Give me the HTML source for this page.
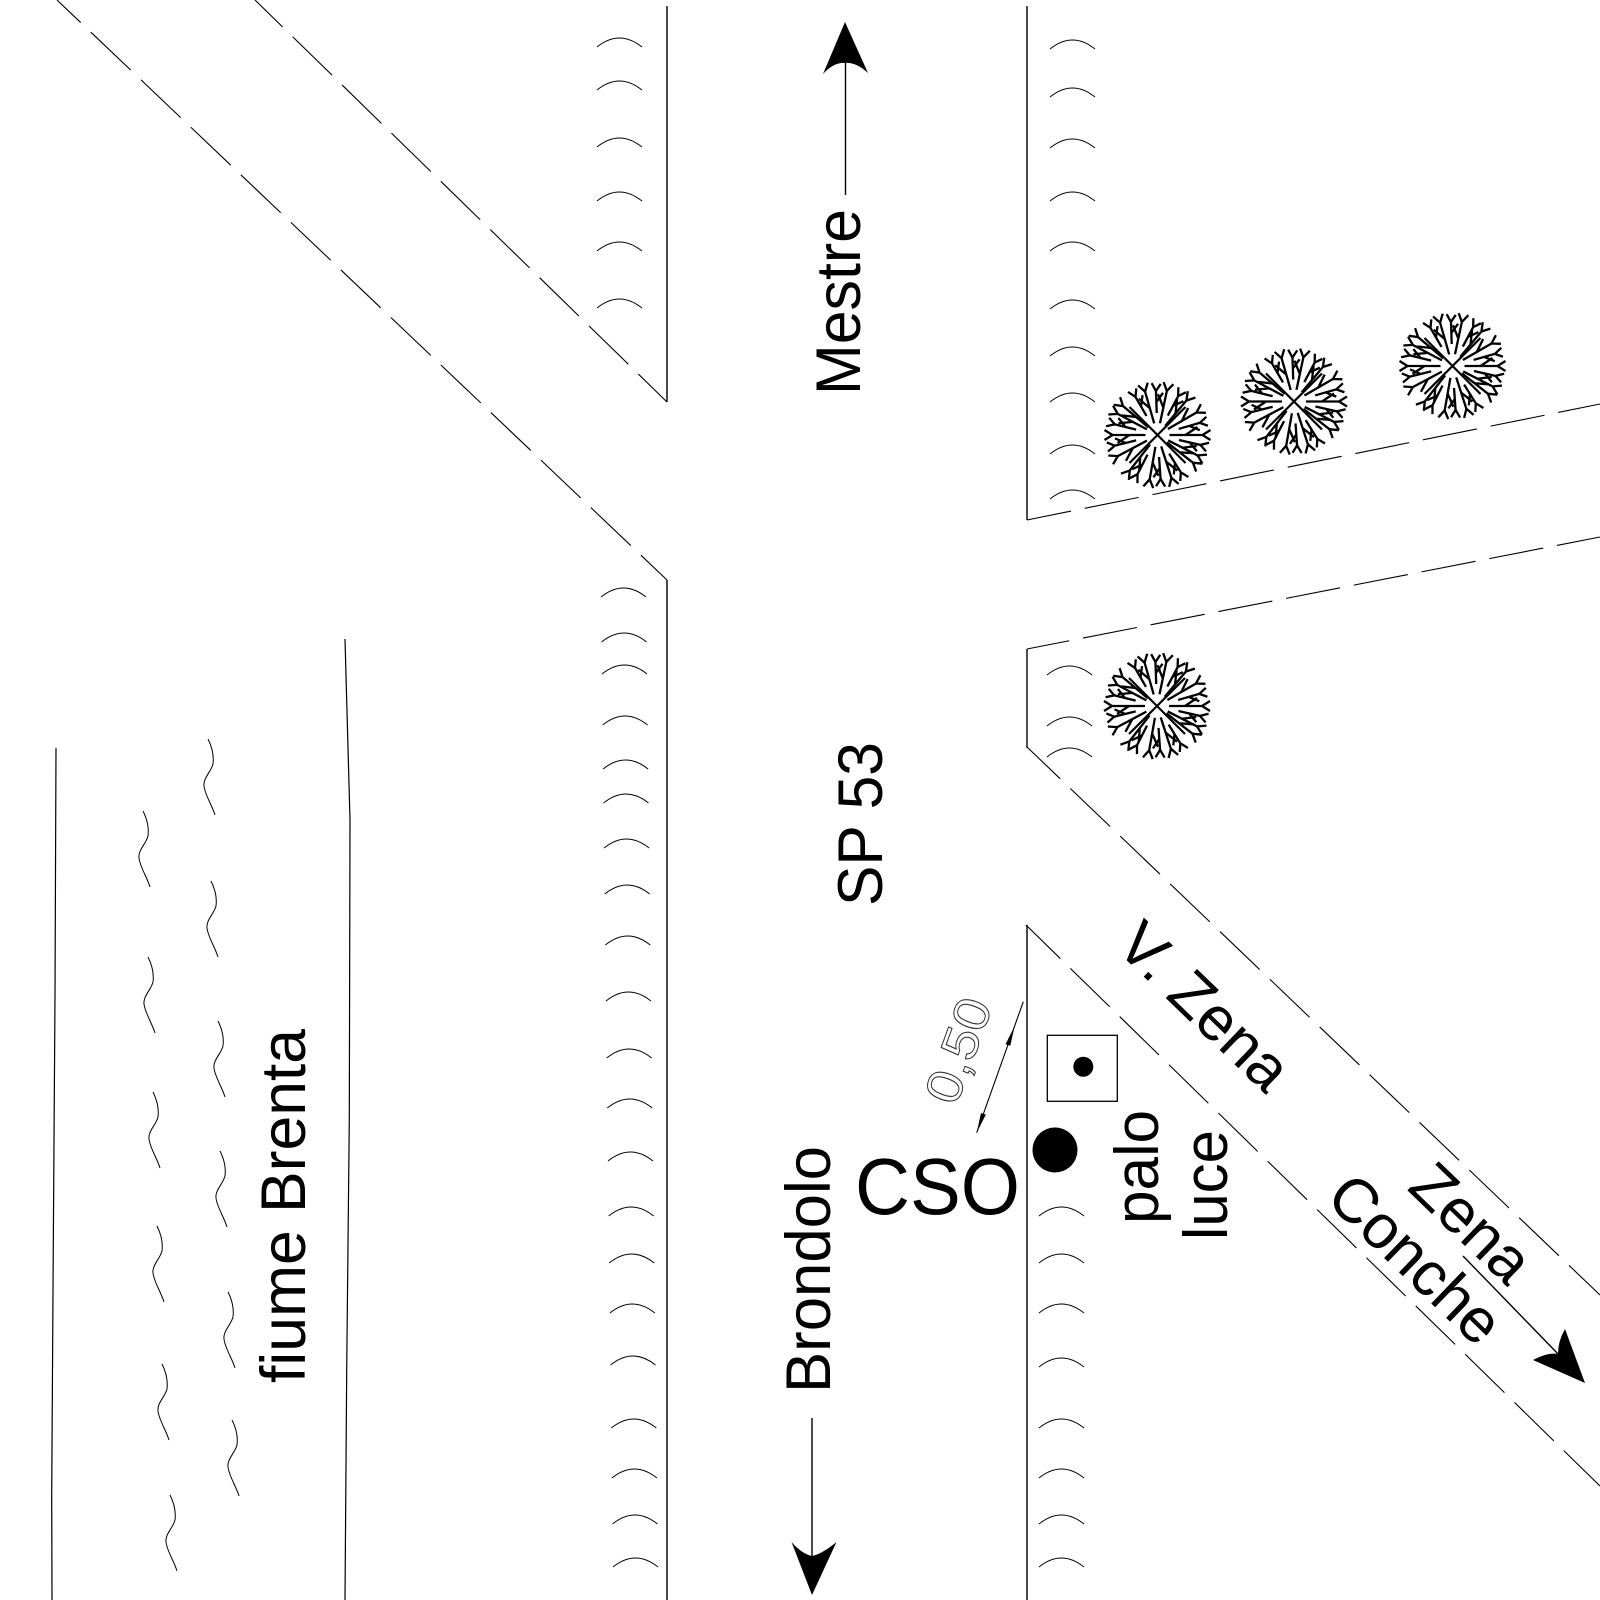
<!DOCTYPE html>
<html>
<head>
<meta charset="utf-8">
<style>
html,body{margin:0;padding:0;background:#fff;overflow:hidden;}
svg{display:block;}
text{font-family:"Liberation Sans","DejaVu Sans",sans-serif;fill:#000;}
</style>
</head>
<body>
<svg width="1600" height="1600" viewBox="0 0 1600 1600" xmlns="http://www.w3.org/2000/svg">
<defs>
  <path id="arc" d="M0,9 Q22.5,-9 45,9" fill="none" stroke="#000" stroke-width="1"/>
  <path id="wv" d="M0,0 C4,8 6,17 5,25 C3,33 -5,39 -4,47 C-3,56 4,66 7,76" fill="none" stroke="#000" stroke-width="1"/>
  <path id="bA" d="M12,0 L45,0 L53,-5 M45,0 L53,5 M28,0 L40,-8"/>
  <path id="bB" d="M22,0 L44,0 L52,-4 M44,0 L51,5 M33,0 L42,7"/>
  <g id="tree" stroke="#000" stroke-width="2.3" fill="none" stroke-linecap="butt">
    <path d="M-28,-28 L28,28 M28,-28 L-28,28" stroke-width="2.2"/>
    <use href="#bA" transform="rotate(0)"/>
    <use href="#bB" transform="rotate(13)"/>
    <use href="#bA" transform="rotate(27)"/>
    <use href="#bB" transform="rotate(58)"/>
    <use href="#bA" transform="rotate(72)"/>
    <use href="#bB" transform="rotate(86)"/>
    <use href="#bA" transform="rotate(100)"/>
    <use href="#bB" transform="rotate(117)"/>
    <use href="#bA" transform="rotate(152)"/>
    <use href="#bB" transform="rotate(166)"/>
    <use href="#bA" transform="rotate(180)"/>
    <use href="#bB" transform="rotate(194)"/>
    <use href="#bA" transform="rotate(208)"/>
    <use href="#bB" transform="rotate(240)"/>
    <use href="#bA" transform="rotate(254)"/>
    <use href="#bB" transform="rotate(268)"/>
    <use href="#bA" transform="rotate(282)"/>
    <use href="#bB" transform="rotate(298)"/>
    <use href="#bA" transform="rotate(330)"/>
    <use href="#bB" transform="rotate(344)"/>
    <use href="#bA" transform="rotate(38)"/>
    <use href="#bA" transform="rotate(128)"/>
    <use href="#bA" transform="rotate(220)"/>
    <use href="#bA" transform="rotate(310)"/>
  </g>
</defs>

<rect width="1600" height="1600" fill="#fff"/>

<!-- main road solid edges -->
<g stroke="#000" stroke-width="1.4" fill="none">
  <line x1="667" y1="6" x2="667" y2="402"/>
  <line x1="667" y1="580" x2="667" y2="1600"/>
  <line x1="1027" y1="6" x2="1027" y2="520"/>
  <line x1="1027" y1="649" x2="1027" y2="748"/>
  <line x1="1027" y1="925" x2="1027" y2="1600"/>
</g>

<!-- dashed road edges -->
<g stroke="#000" stroke-width="1.1" fill="none" stroke-dasharray="55 14">
  <path d="M667,580 L57,0" stroke-dashoffset="19"/>
  <path d="M667,402 L255,0" stroke-dashoffset="15"/>
  <path d="M1027,520 L1600,404" stroke-dashoffset="10"/>
  <path d="M1027,649 L1600,537" stroke-dashoffset="12"/>
  <path d="M1027,747 L1600,1295" stroke-dashoffset="9"/>
  <path d="M1026,925 L1600,1486" stroke-dashoffset="7"/>
</g>

<!-- river banks -->
<g stroke="#000" stroke-width="1.2" fill="none">
  <polyline points="56,748 55,995 53.3,1245 51.7,1495 52,1600"/>
  <polyline points="345,639 350,820 349.3,1120 346.7,1370 345,1600"/>
</g>

<!-- water waves -->
<use href="#wv" x="143" y="811"/>
<use href="#wv" x="148" y="957"/>
<use href="#wv" x="153" y="1092"/>
<use href="#wv" x="157" y="1226"/>
<use href="#wv" x="162" y="1364"/>
<use href="#wv" x="170" y="1495"/>
<use href="#wv" x="208" y="739"/>
<use href="#wv" x="211" y="881"/>
<use href="#wv" x="218" y="1021"/>
<use href="#wv" x="220" y="1151"/>
<use href="#wv" x="228" y="1292"/>
<use href="#wv" x="232" y="1420"/>

<!-- curb arcs top-left -->
<use href="#arc" x="597" y="38"/>
<use href="#arc" x="597" y="81"/>
<use href="#arc" x="597" y="138"/>
<use href="#arc" x="597" y="192"/>
<use href="#arc" x="597" y="242"/>
<use href="#arc" x="597" y="299"/>

<!-- curb arcs lower-left -->
<use href="#arc" x="601" y="588"/>
<use href="#arc" x="601.6" y="633"/>
<use href="#arc" x="602" y="665"/>
<use href="#arc" x="602.6" y="716"/>
<use href="#arc" x="603.1" y="760"/>
<use href="#arc" x="603.5" y="794"/>
<use href="#arc" x="604.1" y="839"/>
<use href="#arc" x="604.7" y="885"/>
<use href="#arc" x="605.3" y="936"/>
<use href="#arc" x="606" y="992"/>
<use href="#arc" x="606.7" y="1049"/>
<use href="#arc" x="607.3" y="1099"/>
<use href="#arc" x="608" y="1152"/>
<use href="#arc" x="608.7" y="1207"/>
<use href="#arc" x="609.2" y="1254"/>
<use href="#arc" x="609.9" y="1304"/>
<use href="#arc" x="610.5" y="1356"/>
<use href="#arc" x="611.3" y="1419"/>
<use href="#arc" x="611.9" y="1469"/>
<use href="#arc" x="612.5" y="1515"/>
<use href="#arc" x="613" y="1558"/>

<!-- curb arcs top-right -->
<use href="#arc" x="1050" y="40"/>
<use href="#arc" x="1050" y="88"/>
<use href="#arc" x="1050" y="139"/>
<use href="#arc" x="1050" y="192"/>
<use href="#arc" x="1050" y="242"/>
<use href="#arc" x="1050" y="300"/>
<use href="#arc" x="1050" y="347"/>
<use href="#arc" x="1050" y="393"/>
<use href="#arc" x="1050" y="445"/>
<use href="#arc" x="1050" y="490"/>

<!-- curb arcs middle-right -->
<use href="#arc" x="1047" y="666"/>
<use href="#arc" x="1047" y="717"/>
<use href="#arc" x="1047" y="748"/>

<!-- curb arcs lower-right -->
<use href="#arc" x="1039" y="1207"/>
<use href="#arc" x="1039" y="1254"/>
<use href="#arc" x="1039" y="1304"/>
<use href="#arc" x="1039" y="1358"/>
<use href="#arc" x="1039" y="1419"/>
<use href="#arc" x="1039" y="1469"/>
<use href="#arc" x="1039" y="1515"/>
<use href="#arc" x="1039" y="1558"/>

<!-- trees -->
<use href="#tree" transform="translate(1157.5,435)"/>
<use href="#tree" transform="translate(1294,401.5)"/>
<use href="#tree" transform="translate(1452.5,366)"/>
<use href="#tree" transform="translate(1157,706)"/>

<!-- Mestre arrow -->
<line x1="845.5" y1="60" x2="845.5" y2="195" stroke="#000" stroke-width="1.4"/>
<path d="M845,22 L868,73 Q856,62 845,63 Q834,62 823,74 Z" fill="#000"/>

<!-- Brondolo arrow -->
<line x1="812" y1="1418" x2="812" y2="1560" stroke="#000" stroke-width="1.4"/>
<path d="M812,1595 L791.5,1542 Q802,1554 812,1556 Q822,1554 836.5,1542 Z" fill="#000"/>

<!-- Zena Conche arrow -->
<line x1="1463" y1="1256" x2="1560" y2="1356" stroke="#000" stroke-width="1.4"/>
<path d="M1585,1383 L1533,1360 Q1548,1352 1558,1354 Q1558,1341 1565,1329 Z" fill="#000"/>

<!-- light pole symbol -->
<rect x="1047.3" y="1035.3" width="70" height="66" fill="none" stroke="#000" stroke-width="1.3"/>
<circle cx="1083.3" cy="1066.7" r="10" fill="#000"/>
<circle cx="1055" cy="1150" r="22.5" fill="#000"/>

<!-- dimension line -->
<line x1="1023.3" y1="1001.7" x2="976.7" y2="1132.7" stroke="#000" stroke-width="1.1"/>
<path d="M1014.6,1026.2 L1010.3,1045.8 L1005.5,1044.2 Z" fill="#000"/>
<path d="M976.7,1132.7 L985.8,1114.6 L981,1113 Z" fill="#000"/>
<text transform="translate(956,1107) rotate(-70)" font-size="50" textLength="108" lengthAdjust="spacingAndGlyphs" style="fill:none;stroke:#333;stroke-width:1">0,50</text>

<!-- labels -->
<text transform="translate(860,395) rotate(-90)" font-size="63" textLength="186" lengthAdjust="spacingAndGlyphs">Mestre</text>
<text transform="translate(882,906) rotate(-90)" font-size="63" textLength="164" lengthAdjust="spacingAndGlyphs">SP 53</text>
<text transform="translate(830,1393) rotate(-90)" font-size="63" textLength="247" lengthAdjust="spacingAndGlyphs">Brondolo</text>
<text transform="translate(305,1383) rotate(-90)" font-size="63" textLength="354" lengthAdjust="spacingAndGlyphs">fiume Brenta</text>
<text transform="translate(1158,1224) rotate(-90)" font-size="62" textLength="114" lengthAdjust="spacingAndGlyphs">palo</text>
<text transform="translate(1227,1240) rotate(-90)" font-size="62" textLength="110" lengthAdjust="spacingAndGlyphs">luce</text>
<text x="855" y="1214" font-size="80" textLength="165" lengthAdjust="spacingAndGlyphs">CSO</text>
<text transform="translate(1114,948) rotate(44)" font-size="62">V. Zena</text>
<text transform="translate(1406,1189) rotate(44)" font-size="62">Zena</text>
<text transform="translate(1324,1200) rotate(44)" font-size="62">Conche</text>
</svg>
</body>
</html>
